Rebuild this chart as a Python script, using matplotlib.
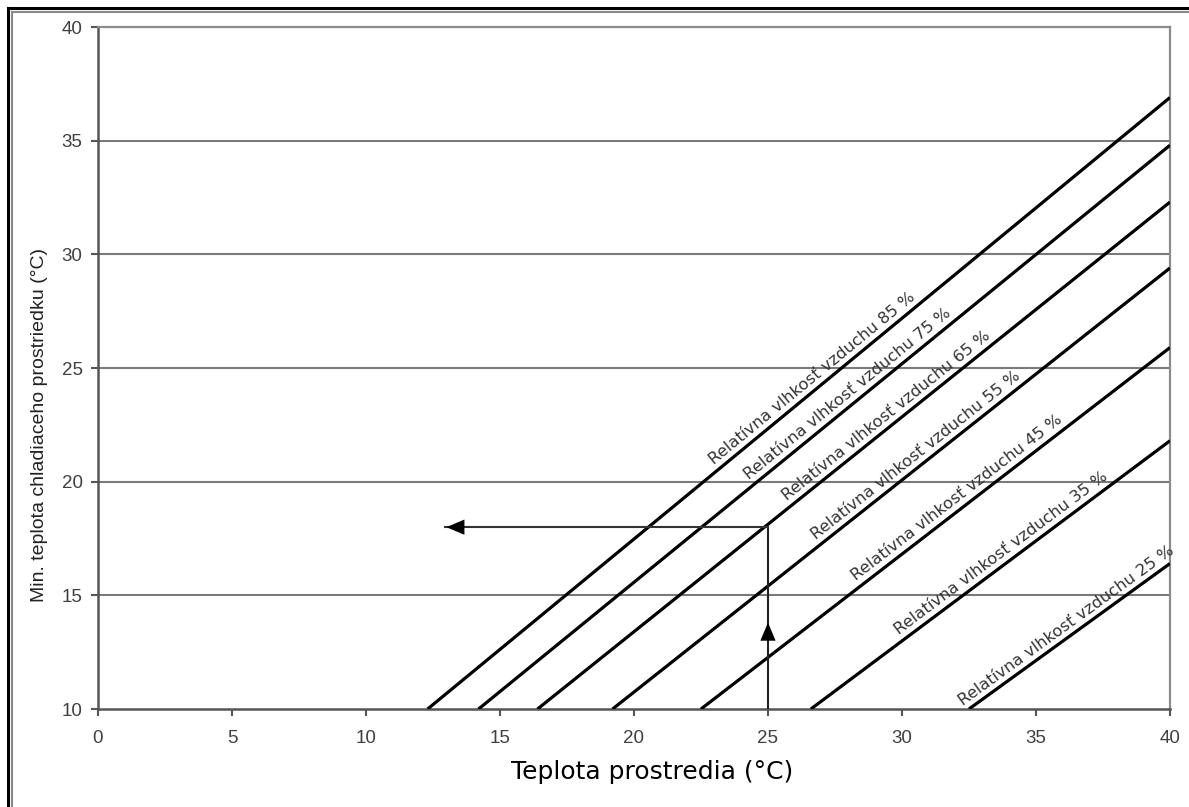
import numpy as np
import matplotlib
matplotlib.use("Agg")
import matplotlib.pyplot as plt
from matplotlib.lines import Line2D

# relative humidity curves: ambient temperature where the curve meets y=10,
# and the value of the curve at ambient temperature 40
humidity = [85, 75, 65, 55, 45, 35, 25]
start_x = [12.3, 14.2, 16.4, 19.2, 22.5, 26.6, 32.5]
end_y = [36.9, 34.8, 32.3, 29.4, 25.9, 21.8, 16.4]
label_x = [23.15, 24.45, 25.85, 26.95, 28.45, 30.05, 32.4]

# example reading: 25 °C ambient -> 18 °C
example_x = 25
example_y = 18
arrow_end_x = 12.95

fig = plt.figure(figsize=(11.89, 8.07), dpi=100)
ax = fig.add_axes([0.0824, 0.1214, 0.9016, 0.8451])
ax.set_xlim(0, 40)
ax.set_ylim(10, 40)

# grid only on y
ax.set_yticks([10, 15, 20, 25, 30, 35, 40])
ax.set_xticks([0, 5, 10, 15, 20, 25, 30, 35, 40])
for yv in [15, 20, 25, 30, 35]:
    ax.axhline(yv, color='#7a7a7a', lw=1.5, zorder=1)

for side in ['top', 'right']:
    ax.spines[side].set_color('#8c8c8c')
    ax.spines[side].set_linewidth(1.6)
for side in ['left', 'bottom']:
    ax.spines[side].set_color('#555555')
    ax.spines[side].set_linewidth(1.8)

ax.tick_params(axis='both', direction='out', length=5, width=1.5, color='#555555',
               labelsize=13.5, labelcolor='#404040')
ax.tick_params(axis='x', pad=10)
ax.tick_params(axis='y', pad=6)
for lab in ax.get_xticklabels() + ax.get_yticklabels():
    lab.set_family('Liberation Sans')

# humidity lines
for h, x0, y1, lx in zip(humidity, start_x, end_y, label_x):
    ax.plot([x0, 40], [10, y1], color='black', lw=2.3, solid_capstyle='butt', zorder=3)
    slope = (y1 - 10) / (40 - x0)
    ly = 10 + slope * (lx - x0)
    # screen angle, to push the label a little off the line
    p0 = ax.transData.transform((x0, 10))
    p1 = ax.transData.transform((40, y1))
    ang = np.arctan2(p1[1] - p0[1], p1[0] - p0[0])
    off = 2.5
    ax.annotate(f'Relatívna vlhkosť vzduchu {h} %', xy=(lx, ly),
                xytext=(-off * np.sin(ang), off * np.cos(ang)), textcoords='offset points',
                fontsize=11.8, color='#333333', rotation=np.degrees(ang),
                rotation_mode='anchor', ha='left', va='bottom', family='DejaVu Sans',
                annotation_clip=False, zorder=4)

# example arrows
ax.plot([example_x, example_x], [10, example_y], color='#222222', lw=1.5, zorder=3)
ax.plot([arrow_end_x, example_x], [example_y, example_y], color='#333333', lw=1.5, zorder=3)
ax.annotate('', xy=(example_x, 13.8), xytext=(example_x, 12.9),
            arrowprops=dict(arrowstyle='-|>,head_length=1.3,head_width=0.55',
                            color='black', lw=0, shrinkA=0, shrinkB=0), zorder=5)
ax.annotate('', xy=(arrow_end_x + 0.05, example_y), xytext=(arrow_end_x + 0.8, example_y),
            arrowprops=dict(arrowstyle='-|>,head_length=1.3,head_width=0.55',
                            color='black', lw=0, shrinkA=0, shrinkB=0), zorder=5)

ax.set_xlabel('Teplota prostredia (°C)', fontsize=18, family='DejaVu Sans', color='black')
ax.xaxis.set_label_coords(0.517, -0.0748)
ax.set_ylabel('Min. teplota chladiaceho prostriedku (°C)', fontsize=14,
              family='Liberation Sans', color='#222222')
ax.yaxis.set_label_coords(-0.0466, 0.416)

# outer frame (left and top only)
W, H = 1189, 807
fig.add_artist(Line2D([8 / W, 8 / W], [0, 1 - 8 / H], color='black', lw=2.2))
fig.add_artist(Line2D([8 / W, 1], [1 - 8 / H, 1 - 8 / H], color='black', lw=2.2))
fig.add_artist(Line2D([12 / W, 12 / W], [0, 1 - 12 / H], color='#8a8a8a', lw=1.5))
fig.add_artist(Line2D([12 / W, 1], [1 - 12 / H, 1 - 12 / H], color='#8a8a8a', lw=1.5))

fig.savefig('out.png', dpi=100)
